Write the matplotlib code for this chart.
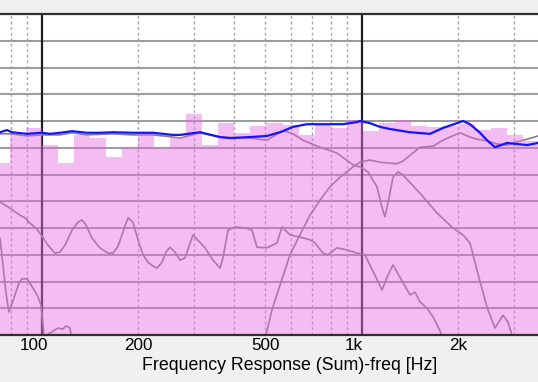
import matplotlib.pyplot as plt
import numpy as np

# 1/6 octave band edges [Hz] and band levels [dB]
band_edges = [70.71, 79.37, 89.09, 100.0, 112.25, 125.99, 141.42, 158.74, 178.18,
              200.0, 224.49, 251.98, 282.84, 317.48, 356.36, 400.0, 448.98, 503.97,
              565.69, 634.96, 712.71, 800.0, 897.97, 1007.9, 1131.4, 1269.9, 1425.4,
              1600.0, 1795.9, 2015.9, 2262.7, 2539.8, 2850.8, 3200.0, 3591.8]
band_db = [72.1, 77.4, 78.7, 75.5, 72.1, 77.4, 76.8, 73.3, 75.1, 77.8, 75.0, 77.0,
           81.3, 75.5, 79.6, 77.8, 79.1, 79.6, 79.3, 77.4, 79.4, 78.7, 80.2, 78.1,
           79.6, 80.2, 79.1, 78.9, 79.1, 79.4, 78.3, 78.7, 77.4, 76.3]

# sum response (blue)
sum_f = [74.1, 77.9, 80.8, 83.7, 90.0, 100.2, 106.2, 114.1, 124.4, 138.5, 152.1, 167.1,
         192.9, 222.7, 257.2, 270.5, 312.4, 360.7, 387.7, 447.7, 505.9, 555.5, 610.1,
         674.8, 757.0, 874.1, 966.8, 987.8, 1061, 1141, 1226, 1416, 1635, 1795, 1986,
         2073, 2180, 2343, 2464, 2610, 2846, 3285, 3556]
sum_db = [77.9, 78.3, 77.9, 77.8, 77.6, 77.8, 77.6, 77.8, 78.1, 77.8, 77.8, 77.9,
          77.8, 77.8, 77.4, 77.4, 77.9, 77.0, 76.8, 77.0, 77.2, 77.9, 78.9,
          79.4, 79.4, 79.4, 79.8, 80.0, 79.6, 78.9, 78.5, 77.9, 77.6, 78.7, 79.6,
          80.0, 79.4, 77.8, 76.4, 75.1, 75.9, 75.5, 75.9]

# woofer
woof_f = [74.1, 80.8, 90.0, 100.2, 114.1, 124.4, 138.5, 167.1, 192.9, 222.7, 257.2,
          270.5, 312.4, 360.7, 447.7, 505.9, 555.5, 575.8, 610.1, 655.6, 740.8, 837.1,
          939.4, 987.8, 1046, 1116, 1157, 1182, 1209, 1253, 1299, 1346, 1521, 1719,
          1929, 2073, 2180, 2293, 2464, 2610, 2764, 2866, 2950, 3035]
woof_db = [77.6, 77.6, 77.2, 77.4, 77.4, 77.8, 77.4, 77.6, 77.4, 77.4, 77.0,
           76.8, 77.8, 77.0, 76.8, 76.4, 77.9, 78.1, 77.6, 76.4, 75.1, 74.0,
           71.8, 71.4, 70.5, 67.7, 63.9, 62.1, 64.7, 69.5, 70.5, 69.9, 66.5, 62.8,
           60.0, 58.7, 57.2, 52.1, 45.2, 41.3, 43.7, 42.4, 40.0, 37.2]

# tweeter
tw_f = [481, 502.2, 524.4, 555.5, 597.0, 641.6, 689.4, 740.8, 796.1, 855.4, 939.4,
        987.8, 1061, 1141, 1289, 1346, 1521, 1671, 1795, 1888, 2029, 2180, 2293,
        2464, 2647, 2846, 3057, 3285, 3556]
tw_db = [37.2, 40.0, 44.7, 49.3, 55.0, 58.7, 62.4, 65.2, 67.7, 69.5, 71.4,
         72.3, 72.7, 72.3, 72.0, 72.5, 75.1, 75.3, 76.4, 77.0, 77.8, 77.0, 76.6,
         76.3, 75.7, 75.5, 76.1, 76.6, 77.2]

# other driver / mid curve
mid_f = [74.1, 79.6, 85.5, 88.7, 91.9, 96.0, 100.2, 104.6, 110.0, 114.1, 118.3, 124.4,
         129.9, 133.6, 137.5, 143.6, 152.1, 161.2, 167.1, 173.2, 178.2, 186.1, 192.9,
         200, 207.3, 214.9, 222.7, 229.3, 237.7, 244.6, 251.7, 260.9, 270.5, 280.4,
         297.0, 323.8, 343.0, 360.7, 368.6, 382.1, 401.9, 431.8, 454.2, 470.8, 505.9,
         543.6, 563.6, 597.0, 641.6, 689.4, 714.6, 757.0, 784.7, 837.1, 899.7, 966.8,
         1024, 1061, 1100, 1157, 1200, 1253, 1317, 1416, 1468, 1521, 1600, 1671,
         1782, 1848]
mid_db = [64.9, 63.7, 62.4, 61.9, 60.9, 60.0, 58.5, 56.8, 55.3, 55.5, 56.8, 59.6,
          61.1, 61.5, 60.6, 58.1, 56.3, 55.3, 55.3, 56.6, 58.7, 61.9, 61.1,
          57.8, 55.0, 53.6, 52.9, 52.5, 53.6, 55.5, 56.4, 55.5, 54.0, 54.4,
          58.7, 56.3, 54.0, 52.5, 54.4, 59.6, 60.2, 60.0, 59.6, 56.4, 56.3,
          57.2, 60.2, 58.7, 58.3, 57.8, 57.2, 55.3, 55.0, 56.3, 55.9, 55.3,
          55.0, 53.1, 51.2, 48.4, 50.8, 53.1, 50.8, 47.5, 48.0, 46.2, 45.0, 43.4,
          40.0, 38.1]

# port / low curve
low_f = [74.1, 75.7, 77.3, 79.0, 81.9, 84.9, 86.8, 90.0, 93.9, 97.4, 99.5, 101.0,
         102.4, 103.9, 108.5, 112.4, 116.6, 119.1, 122.6, 125.3]
low_db = [58.1, 53.1, 48.0, 44.3, 46.9, 49.7, 50.5, 50.5, 48.8, 47.1, 45.6, 41.9,
          38.1, 40.0, 40.7, 41.3, 41.1, 41.7, 41.3, 38.1]

tick_freqs = [94.6, 200, 500, 943, 2000]
tick_labels = ["100", "200", "500", "1k", "2k"]
decades = [100, 1000]
minor_freqs = [80, 90, 200, 300, 400, 500, 600, 700, 800, 900, 2000, 3000]

plt.rcParams['font.family'] = ['Liberation Sans', 'DejaVu Sans']

fig = plt.figure(figsize=(5.38, 3.82), dpi=100, facecolor='#f0f0f0')
ax = fig.add_axes([0, 47 / 382, 1, 321 / 382])
ax.set_xscale('log')
ax.set_xlim(74.1, 3556)
ax.set_ylim(40, 100)

# grid
for v in range(45, 100, 5):
    ax.axhline(v, color='#9c9c9c', lw=1.5, zorder=0.5)
for f in minor_freqs:
    ax.axvline(f, color='#a8a8a8', lw=1.0, ls=(0, (2, 2)), zorder=0.5)
for f in decades:
    ax.axvline(f, color='#202020', lw=1.6, zorder=0.6)

# driver curves under the translucent bars
ax.plot(low_f, low_db, color='#8a7a8a', lw=1.2, zorder=1)
ax.plot(mid_f, mid_db, color='#8a7a8a', lw=1.2, zorder=1)
ax.plot(woof_f, woof_db, color='#8a7a8a', lw=1.2, zorder=1)
ax.plot(tw_f, tw_db, color='#8a7a8a', lw=1.2, zorder=1)

edges = np.array(band_edges)
ax.bar(edges[:-1], band_db, width=np.diff(edges), align='edge', bottom=0,
       color=(0.9, 0.42, 0.9), alpha=0.45, linewidth=0, zorder=2)

ax.plot(sum_f, sum_db, color='#1414ff', lw=1.6, zorder=3)

ax.set_xticks([])
ax.set_xticks([], minor=True)
ax.set_yticks([])
for s in ['left', 'right']:
    ax.spines[s].set_visible(False)
for s in ['top', 'bottom']:
    ax.spines[s].set_color('#303030')
    ax.spines[s].set_linewidth(1.6)

for f, t in zip(tick_freqs, tick_labels):
    ax.text(f, -0.034, t, transform=ax.get_xaxis_transform(), ha='center',
            va='center', fontsize=12.3)

fig.text(290 / 538, 1 - 366 / 382, "Frequency Response (Sum)-freq [Hz]",
         ha='center', va='center', fontsize=12.8)

fig.savefig("out.png", dpi=100, facecolor=fig.get_facecolor())
